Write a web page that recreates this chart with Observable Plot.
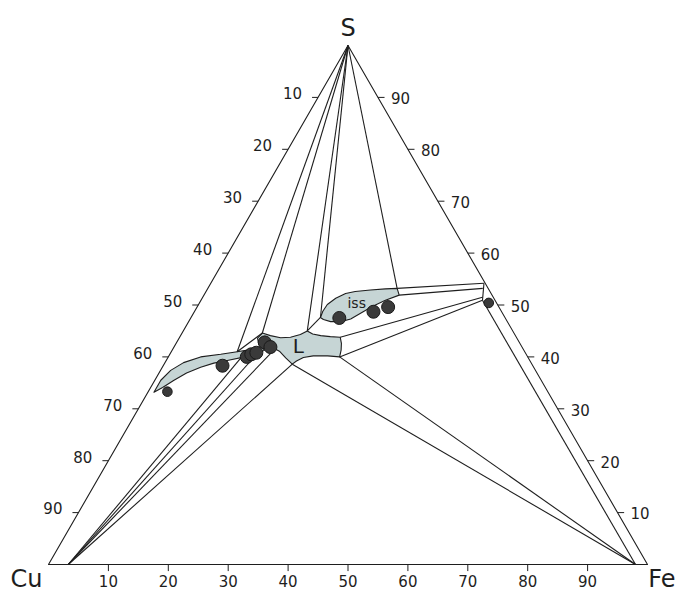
<!DOCTYPE html>
<html><head><meta charset="utf-8">
<script src="https://cdn.jsdelivr.net/npm/d3@7"></script>
<script src="https://cdn.jsdelivr.net/npm/@observablehq/plot@0.6"></script>
<style>body{margin:0;background:#fff}</style>
</head><body><div id="chart"></div>
<script>
// All compositions are [wt% Fe, wt% S]; Cu = 100 - Fe - S
const corners = [
  {name: "Cu", fe: 0, s: 0},
  {name: "Fe", fe: 100, s: 0},
  {name: "S", fe: 0, s: 100}
];
const axisTicks = [10, 20, 30, 40, 50, 60, 70, 80, 90];

// Liquid field (L)
const liquidField = [
  [13.4,44.6],[15.0,44.1],[16.9,43.7],[18.5,43.8],[19.9,44.3],[20.7,45.0],
  [21.9,44.4],[23.4,44.1],[25.1,43.9],[26.8,43.8],[27.6,42.6],[28.2,41.3],
  [28.6,40.0],[26.5,40.2],[24.1,40.2],[22.6,39.9],[21.8,39.2],[21.4,38.6],
  [19.7,39.8],[18.0,41.1],[16.5,41.8],[15.3,41.8],[13.9,42.4],[13.1,43.6]
];
// Intermediate solid solution (iss)
const issField = [
  [21.6,47.6],[21.4,48.8],[21.5,50.1],[22.3,51.3],[23.5,52.2],[24.9,52.6],
  [27.3,52.9],[29.7,53.1],[31.6,53.2],[32.6,51.9],[30.8,50.9],[29.2,49.7],
  [27.9,48.4],[26.8,47.3],[25.4,46.8],[23.7,46.8],[22.3,47.2]
];
// Cu-rich solid solution lens
const lensField = [
  [1.0,33.2],[1.0,35.5],[1.7,37.4],[3.1,38.9],[5.4,40.0],[8.5,40.5],
  [11.0,41.0],[13.0,41.4],[14.5,42.0],[15.4,41.3],[14.4,40.6],[13.1,40.1],
  [10.2,39.3],[8.2,38.8],[6.4,38.0],[4.6,36.9],[3.2,35.5],[2.0,34.1]
];

// Tie lines radiating from the S corner
const fromSulfur = [[11.0,41.0],[13.4,44.6],[20.7,45.0],[21.6,47.6],[31.6,53.2]];
// Lines to the Cu-side convergence point
const cuConvergence = [3.3, 0];
const toCuSide = [[12.2,39.7],[14.5,40.5],[16.9,41.1],[21.4,38.6]];
// Lines to the Fe-side convergence point
const feConvergence = [98, 0];
const toFeSide = [[21.4,38.6],[28.6,40.0],[47.0,50.9]];
// Other tie lines
const otherLines = [
  [[11.0,41.0],[13.4,44.6]],
  [[20.7,45.0],[21.6,47.6]],
  [[45.6,54.2],[47.0,50.9]],
  [[31.6,53.2],[45.6,54.2]],
  [[32.6,51.9],[45.9,53.2]],
  [[26.8,43.8],[46.7,51.5]],
  [[28.6,40.0],[47.0,50.9]]
];

// Analysed samples
const samples = [
  [9.9,38.3],[13.1,40.0],[13.6,40.5],[14.3,40.8],[14.7,42.8],[16.1,41.9],
  [24.8,47.5],[29.9,48.7],[31.9,49.6]
];
const samplesSmall = [[3.2,33.3],[48.3,50.4]];

const fieldLabels = [
  {text: "L", fe: 20.7, s: 42.0, size: 20},
  {text: "iss", fe: 26.3, s: 50.3, size: 14}
];

// ---- ternary transform ----
const K = Math.sqrt(3) / 2;
const tx = p => p[0] + p[1] / 2;
const ty = p => p[1] * K;

const segments = [
  ...fromSulfur.map(p => [[0, 100], p]),
  ...toCuSide.map(p => [cuConvergence, p]),
  ...toFeSide.map(p => [p, feConvergence]),
  ...otherLines
];

const bottomTicks = axisTicks.map(v => ({v, p: [v, 0]}));
const leftTicks = axisTicks.map(v => ({v, p: [0, 100 - v]}));
const rightTicks = axisTicks.map(v => ({v, p: [100 - v, v]}));

const FONT = "DejaVu Sans";
const INK = "#1e1e1e";
const FILL = "#c6d5d5";

const chart = Plot.plot({
  width: 676,
  height: 593,
  marginLeft: 48,
  marginRight: 29,
  marginTop: 45,
  marginBottom: 29,
  x: {domain: [0, 100], axis: null},
  y: {domain: [0, 100 * K], axis: null},
  style: {background: "#ffffff", fontFamily: FONT, color: INK},
  marks: [
    Plot.line(lensField, {x: tx, y: ty, curve: "linear-closed", fill: FILL, stroke: INK, strokeWidth: 1.1}),
    Plot.line(liquidField, {x: tx, y: ty, curve: "linear-closed", fill: FILL, stroke: INK, strokeWidth: 1.1}),
    Plot.line(issField, {x: tx, y: ty, curve: "linear-closed", fill: FILL, stroke: INK, strokeWidth: 1.1}),
    Plot.link(segments, {
      x1: d => tx(d[0]), y1: d => ty(d[0]), x2: d => tx(d[1]), y2: d => ty(d[1]),
      stroke: INK, strokeWidth: 1.1
    }),
    Plot.line(corners, {x: d => d.fe + d.s / 2, y: d => d.s * K, curve: "linear-closed", stroke: INK, strokeWidth: 1.1}),
    // ticks
    Plot.link(bottomTicks, {x1: d => tx(d.p), y1: d => ty(d.p), x2: d => tx(d.p), y2: d => ty(d.p) - 1.1, stroke: INK, strokeWidth: 1}),
    Plot.link(leftTicks, {x1: d => tx(d.p), y1: d => ty(d.p), x2: d => tx(d.p) - 1.0, y2: d => ty(d.p), stroke: INK, strokeWidth: 1}),
    Plot.link(rightTicks, {x1: d => tx(d.p), y1: d => ty(d.p), x2: d => tx(d.p) + 1.1, y2: d => ty(d.p), stroke: INK, strokeWidth: 1}),
    Plot.text(bottomTicks, {x: d => tx(d.p), y: d => ty(d.p), text: d => String(d.v), dy: 18, fontSize: 15, fill: INK, fontFamily: FONT}),
    Plot.text(leftTicks, {x: d => tx(d.p), y: d => ty(d.p), text: d => String(d.v), dx: -16, dy: -3, textAnchor: "end", fontSize: 15, fill: INK, fontFamily: FONT}),
    Plot.text(rightTicks, {x: d => tx(d.p), y: d => ty(d.p), text: d => String(d.v), dx: 13, dy: 2, textAnchor: "start", fontSize: 15, fill: INK, fontFamily: FONT}),
    // samples
    Plot.dot(samples, {x: tx, y: ty, r: 6.5, fill: "#3a3a3a", stroke: "#1a1a1a", strokeWidth: 1}),
    Plot.dot(samplesSmall, {x: tx, y: ty, r: 4.8, fill: "#3a3a3a", stroke: "#1a1a1a", strokeWidth: 1}),
    // field labels
    Plot.text(fieldLabels, {x: d => d.fe + d.s / 2, y: d => d.s * K, text: "text", fontSize: d => d.size, fill: INK, fontFamily: FONT}),
    // corner labels
    Plot.text(corners.filter(d => d.name === "S"), {x: d => d.fe + d.s / 2, y: d => d.s * K, text: "name", dy: -17, fontSize: 24, fill: INK, fontFamily: FONT}),
    Plot.text(corners.filter(d => d.name === "Cu"), {x: d => d.fe + d.s / 2, y: d => d.s * K, text: "name", dx: -6, dy: 15, textAnchor: "end", fontSize: 24, fill: INK, fontFamily: FONT}),
    Plot.text(corners.filter(d => d.name === "Fe"), {x: d => d.fe + d.s / 2, y: d => d.s * K, text: "name", dx: 28, dy: 15, textAnchor: "end", fontSize: 24, fill: INK, fontFamily: FONT})
  ]
});
document.getElementById("chart").appendChild(chart);
</script>
</body></html>
